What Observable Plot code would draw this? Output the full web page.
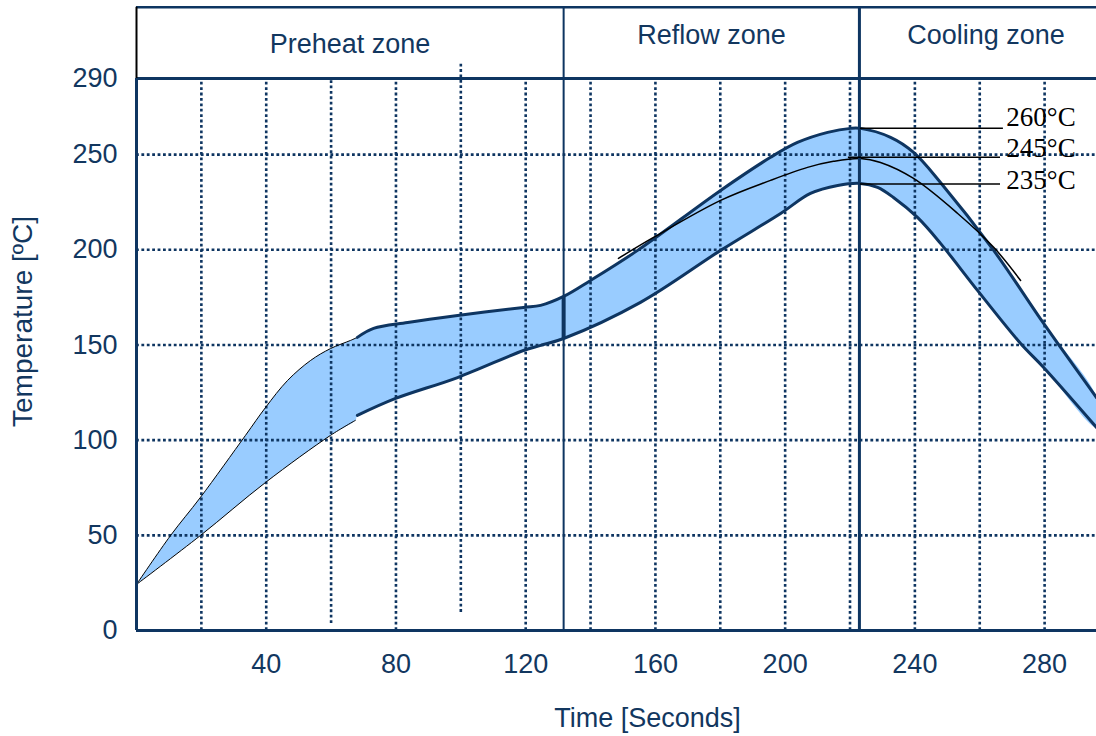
<!DOCTYPE html>
<html><head><meta charset="utf-8">
<script src="https://cdn.jsdelivr.net/npm/d3@7"></script>
<script src="https://cdn.jsdelivr.net/npm/@observablehq/plot@0.6"></script>
<style>body{margin:0;background:#fff} svg{display:block}</style>
</head><body><div id="chart"></div>
<script>
// Reflow soldering profile band (time in seconds, temperature in °C)
const upperTime = [0,10.5,19.7,33.6,39.8,46.6,53.7,59.8,66.0,68.1,73.1,83.6,99.0,119.3,124.6,131.7,140.0,154.5,180.1,195.5,203.8,213.1,220.2,223.2,232.5,239.6,247.9,264.3,279.7,296.0];
const upperTemp = [24.2,49.9,69.9,102.5,117.2,131.4,141.9,148.1,152.4,154.0,158.7,161.8,165.5,169.7,170.8,175.5,183.9,199.7,231.2,248.6,256.4,261.7,263.8,263.8,259.1,251.2,235.4,199.7,161.3,122.4];
const lowerTime = [0,19.7,39.8,59.8,67.5,68.1,79.9,99.0,119.3,124.6,131.7,155.4,180.1,198.6,207.8,216.2,223.2,228.5,233.4,240.8,247.9,259.3,272.6,279.7,296.0];
const lowerTemp = [24.2,49.9,77.8,102.5,110.4,113.0,121.9,132.9,147.1,149.8,153.4,172.4,199.7,219.1,229.6,233.8,234.9,232.8,227.5,217.0,203.4,178.7,150.8,138.2,106.7];
// nominal (245 °C peak) profile
const peakTime = [148.6,159.4,180.1,195.5,206.9,214.9,223.2,229.4,239.6,253.2,264.3,272.6];
const peakTemp = [195.5,206.5,226.0,236.5,243.3,246.5,248.0,245.9,237.5,219.1,201.3,183.9];
// peak temperature markers
const markLabels = ["260°C","245°C","235°C"];
const markTemp = [263.8,248.6,234.6];
const markStart = [223.2,219.5,223.2];
const markEnd = [267.3,266.4,266.4];
const markLabelTime = 268.2;
// zones
const zoneNames = ["Preheat zone","Reflow zone","Cooling zone"];
const zoneBounds = [0,131.7,222.9,296];
// ticks and grid
const xTicks = [40,80,120,160,200,240,280];
const yTicks = [0,50,100,150,200,250,290];
const gridTimes = [20,40,60,80,100,120,140,160,180,200,220,240,260,280];
const gridTemps = [50,100,150,200,250];

const NAVY = "#0e3561";
const TEXT = "#12375f";
const FILL = "#99ccff";
const SERIF = "'Liberation Serif', 'Times New Roman', serif";
const headerTop = 327.4;
const CURVE = "catmull-rom";

const upper = upperTime.map((t,i)=>({t, v: upperTemp[i]}));
const lower = lowerTime.map((t,i)=>({t, v: lowerTemp[i]}));
const band = upper.concat(lower.slice().reverse());
const peak = peakTime.map((t,i)=>({t, v: peakTemp[i]}));
const marks = markLabels.map((label,i)=>({label, temp: markTemp[i], x1: markStart[i], x2: markEnd[i]}));
const zones = zoneNames.map((name,i)=>({name, mid: (zoneBounds[i]+zoneBounds[i+1])/2}));
const vgrid = gridTimes.map(t=>({t, y1: t===60?3.7:(t===100?9.5:0), y2: t===100?298.5:290}));
const bStart = upperTime.indexOf(131.7);
const joinLow = lowerTemp[lowerTime.indexOf(131.7)];

const dot = {stroke: NAVY, strokeWidth: 2.6, strokeDasharray: "2.8,2.6"};

const chart = Plot.plot({
  width: 1096, height: 736,
  marginLeft: 136, marginRight: 0, marginTop: 78, marginBottom: 106,
  x: {domain: [0,296]},
  y: {domain: [0,290]},
  style: {fontFamily: "'Liberation Sans', Arial, sans-serif", fontSize: "27px", color: TEXT, background: "white", overflow: "visible"},
  marks: [
    Plot.line(band, {x: "t", y: "v", fill: FILL, stroke: "none", curve: CURVE}),
    Plot.ruleY(gridTemps, {x1: 0, x2: 296, ...dot}),
    Plot.ruleX(vgrid, {x: "t", y1: "y1", y2: "y2", ...dot}),
    // outlines
    Plot.line(upper.filter(d=>d.t<=68.1), {x: "t", y: "v", stroke: "black", strokeWidth: 1, curve: CURVE}),
    Plot.line(lower.filter(d=>d.t<=67.5), {x: "t", y: "v", stroke: "black", strokeWidth: 1, curve: CURVE}),
    Plot.line(upper.filter(d=>d.t>=68.1), {x: "t", y: "v", stroke: NAVY, strokeWidth: 3, curve: CURVE}),
    Plot.line(lower.filter(d=>d.t>=68.1), {x: "t", y: "v", stroke: NAVY, strokeWidth: 3, curve: CURVE}),
    Plot.ruleX([upperTime[bStart]], {y1: joinLow, y2: upperTemp[bStart], stroke: NAVY, strokeWidth: 4}),
    Plot.line(peak, {x: "t", y: "v", stroke: "black", strokeWidth: 1.5, curve: CURVE}),
    // frame
    Plot.ruleY([290], {x1: 0, x2: 296, stroke: NAVY, strokeWidth: 3}),
    Plot.ruleY([0], {x1: 0, x2: 296, stroke: NAVY, strokeWidth: 3}),
    Plot.ruleX([0], {y1: 0, y2: 290, stroke: NAVY, strokeWidth: 3}),
    Plot.ruleY([headerTop], {x1: 0, x2: 296, stroke: NAVY, strokeWidth: 2.5}),
    Plot.ruleX([0], {y1: 290, y2: headerTop, stroke: "black", strokeWidth: 2}),
    Plot.ruleX([zoneBounds[1]], {y1: 0, y2: headerTop, stroke: NAVY, strokeWidth: 2}),
    Plot.ruleX([zoneBounds[2]], {y1: 0, y2: headerTop, stroke: NAVY, strokeWidth: 3}),
    // peak markers
    Plot.ruleY(marks, {y: "temp", x1: "x1", x2: "x2", stroke: "black", strokeWidth: 1.5}),
    Plot.text(marks.slice(0,1), {x: markLabelTime, y: "temp", text: "label", textAnchor: "start", dy: -11, fontFamily: SERIF, fontSize: 27, fill: "black"}),
    Plot.text(marks.slice(1,2), {x: markLabelTime, y: "temp", text: "label", textAnchor: "start", dy: -9, fontFamily: SERIF, fontSize: 27, fill: "black"}),
    Plot.text(marks.slice(2,3), {x: markLabelTime, y: "temp", text: "label", textAnchor: "start", dy: -4, fontFamily: SERIF, fontSize: 27, fill: "black"}),
    // zone labels
    Plot.text(zones.slice(0,1), {x: "mid", frameAnchor: "top", lineAnchor: "middle", text: "name", dy: -34, fontSize: 27, fill: TEXT}),
    Plot.text(zones.slice(1,2), {x: "mid", frameAnchor: "top", lineAnchor: "middle", text: "name", dy: -43, fontSize: 27, fill: TEXT}),
    Plot.text(zones.slice(2,3), {x: "mid", frameAnchor: "top", lineAnchor: "middle", text: "name", dx: 8, dy: -43, fontSize: 27, fill: TEXT}),
    // axes
    Plot.axisY({ticks: yTicks, tickSize: 0, tickPadding: 19, fontSize: 27, label: null, fill: TEXT}),
    Plot.axisX({ticks: xTicks, tickSize: 0, tickPadding: 23, fontSize: 27, label: null, fill: TEXT}),
    Plot.text(["Time [Seconds]"], {frameAnchor: "bottom", lineAnchor: "middle", textAnchor: "middle", dx: 31, dy: 88, fontSize: 27, fill: TEXT}),
    Plot.text(["Temperature [ºC]"], {frameAnchor: "left", lineAnchor: "middle", textAnchor: "middle", rotate: -90, dx: -113, dy: -33, fontSize: 28, fill: TEXT})
  ]
});
document.getElementById("chart").appendChild(chart);
</script>
</body></html>
